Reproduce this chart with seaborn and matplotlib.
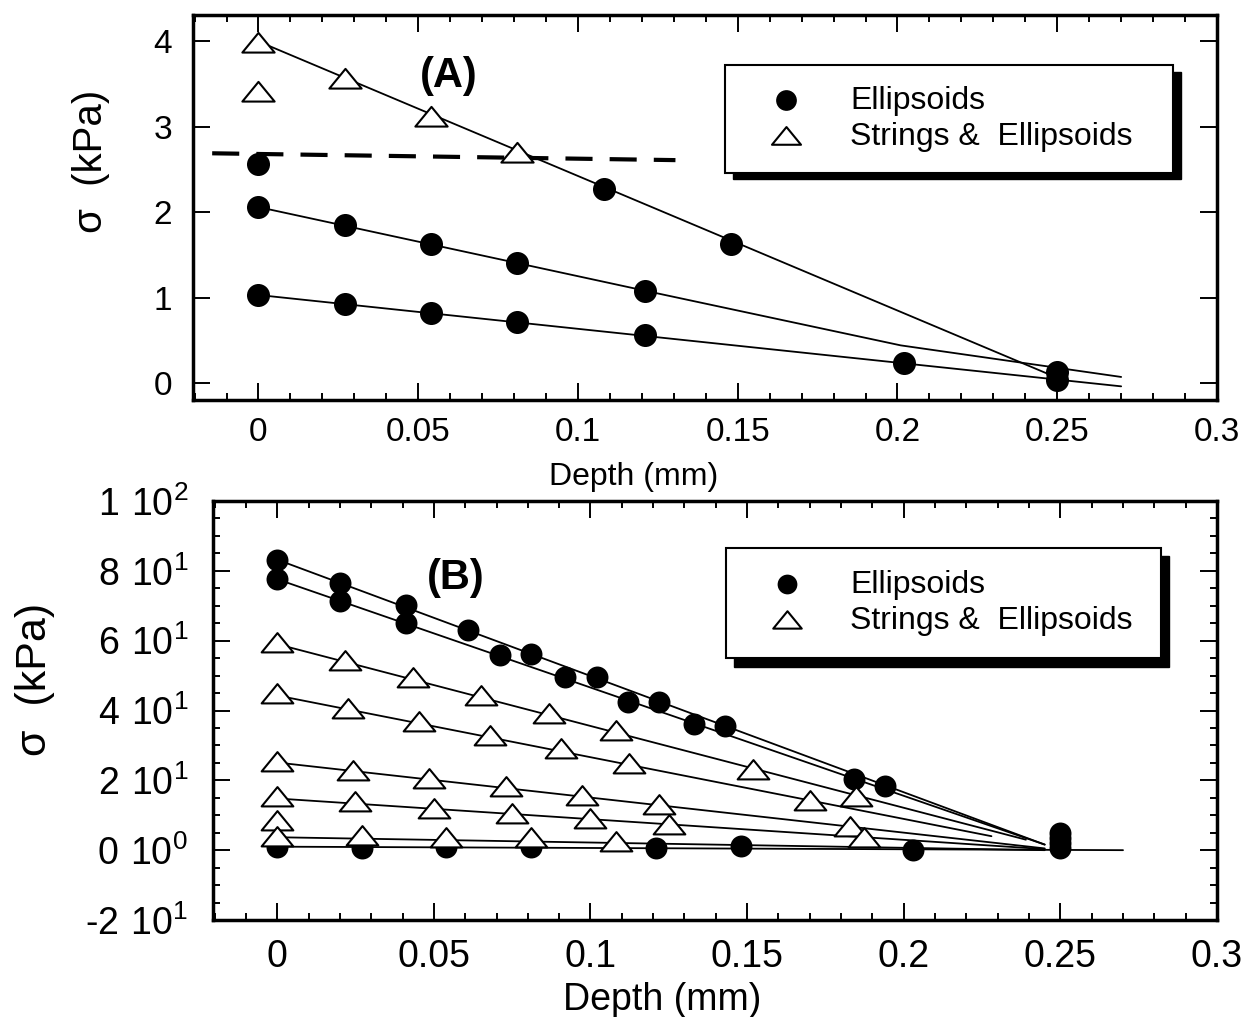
import numpy as np
import pandas as pd
import matplotlib
matplotlib.use('Agg')
import matplotlib.pyplot as plt
import seaborn as sns
from matplotlib.ticker import MultipleLocator, FuncFormatter
from matplotlib.patches import Rectangle
from matplotlib.path import Path

sns.set_style('ticks')
plt.rcParams['font.family'] = ['Liberation Sans', 'DejaVu Sans']
plt.rcParams['mathtext.fontset'] = 'custom'
plt.rcParams['mathtext.rm'] = 'Liberation Sans'
for key in ('text.color', 'axes.labelcolor', 'xtick.color', 'ytick.color'):
    plt.rcParams[key] = 'black'

# ---- panel A data (Depth in mm, sigma in kPa) ----
a_ell_x = [0, 0, 0.027, 0.054, 0.081, 0.121, 0, 0.027, 0.054, 0.081, 0.121,
           0.108, 0.148, 0.202, 0.25, 0.25]
a_ell_y = [2.57, 2.06, 1.85, 1.63, 1.41, 1.08, 1.03, 0.93, 0.82, 0.71, 0.56,
           2.27, 1.63, 0.23, 0.13, 0.03]
a_str_x = [0, 0, 0.027, 0.054, 0.081]
a_str_y = [3.97, 3.40, 3.55, 3.10, 2.68]

# fitted lines of panel A
a_fit_id = [1, 1, 2, 2, 2, 2, 3, 3]
a_fit_x = [0, 0.25, 0, 0.121, 0.201, 0.27, 0, 0.27]
a_fit_y = [4.0, 0.06, 2.06, 1.08, 0.44, 0.07, 1.03, -0.04]

# dashed level
a_dash_x = [-0.0145, 0.1305]
a_dash_y = [2.69, 2.61]

# ---- panel B data ----
b_ell_x = [0, 0.020, 0.041, 0.061, 0.081, 0.102, 0.122, 0.143, 0.194,
           0, 0.020, 0.041, 0.071, 0.092, 0.112, 0.133, 0.184,
           0, 0.027, 0.054, 0.081, 0.121, 0.148, 0.203,
           0.25, 0.25, 0.25, 0.25]
b_ell_y = [83.2, 76.5, 70.3, 63.1, 56.2, 49.7, 42.3, 35.6, 18.5,
           77.6, 71.5, 65.2, 55.9, 49.5, 42.4, 36.2, 20.5,
           1.0, 0.7, 1.0, 1.0, 0.7, 1.1, 0.0,
           5.0, 3.5, 2.0, 0.5]
b_str_x = [0, 0.0215, 0.0434, 0.0649, 0.0869, 0.1083, 0.1519, 0.1847,
           0, 0.0226, 0.0454, 0.068, 0.0906, 0.1122, 0.1702,
           0, 0.0243, 0.0486, 0.0729, 0.0973, 0.1218, 0.1828,
           0, 0.0247, 0.05, 0.075, 0.1, 0.125, 0.1872,
           0,
           0, 0.0271, 0.054, 0.0809, 0.108]
b_str_y = [59.0, 54.0, 48.9, 44.0, 38.7, 33.7, 22.7, 15.0,
           44.3, 40.2, 36.5, 32.5, 28.7, 24.4, 13.8,
           25.1, 22.5, 20.1, 17.7, 15.3, 12.6, 6.4,
           14.8, 13.4, 11.5, 10.0, 8.6, 6.9, 3.1,
           8.1,
           3.6, 3.8, 3.3, 3.1, 2.1]

# fitted lines of panel B
b_fit_id = [1, 1, 2, 2, 3, 3, 4, 4, 5, 5, 6, 6, 7, 7, 8, 8]
b_fit_x = [0, 0.245, 0, 0.245, 0, 0.239, 0, 0.228, 0, 0.245, 0, 0.245,
           0, 0.245, 0, 0.27]
b_fit_y = [83.2, 1.6, 77.6, 1.6, 59.0, 3.0, 44.3, 4.0, 25.1, 0.5, 14.8, 0.3,
           3.7, 0.0, 1.0, 0.0]

labels = ['Ellipsoids', 'Strings &  Ellipsoids']

W, H = 1246, 1017
fig = plt.figure(figsize=(W / 100, H / 100), dpi=100)
axA = fig.add_axes([193 / W, 1 - 400 / H, (1217 - 193) / W, (400 - 15) / H])
axB = fig.add_axes([213 / W, 1 - 920 / H, (1217 - 213) / W, (920 - 501) / H])

# open triangle, a bit wider than tall
tri = Path([(-1, -0.5), (1, -0.5), (0, 0.72), (-1, -0.5)],
           [Path.MOVETO, Path.LINETO, Path.LINETO, Path.CLOSEPOLY])

fitA = pd.DataFrame({'x': a_fit_x, 'y': a_fit_y, 'fit': a_fit_id})
fitB = pd.DataFrame({'x': b_fit_x, 'y': b_fit_y, 'fit': b_fit_id})


def draw_points(ax, ex, ey, sx, sy, s_circ, s_tri):
    sns.scatterplot(x=ex, y=ey, marker='o', s=s_circ, color='k',
                    edgecolor='k', linewidth=0, ax=ax, zorder=3, legend=False)
    h_ell = ax.collections[-1]
    sns.scatterplot(x=sx, y=sy, marker=tri, s=s_tri, color='white',
                    edgecolor='k', linewidth=1.5, ax=ax, zorder=4, legend=False)
    h_str = ax.collections[-1]
    return [h_ell, h_str]


# ---- panel A ----
sns.lineplot(data=fitA, x='x', y='y', units='fit', estimator=None, sort=False,
             color='k', lw=1.3, ax=axA, zorder=2)
sns.lineplot(x=a_dash_x, y=a_dash_y, color='k', lw=3, linestyle=(0, (6.5, 4.1)),
             ax=axA, zorder=2, errorbar=None)
handlesA = draw_points(axA, a_ell_x, a_ell_y, a_str_x, a_str_y, 275, 540)

# ---- panel B ----
sns.lineplot(data=fitB, x='x', y='y', units='fit', estimator=None, sort=False,
             color='k', lw=1.3, ax=axB, zorder=2)
handlesB = draw_points(axB, b_ell_x, b_ell_y, b_str_x, b_str_y, 250, 520)


def sci_label(v, pos):
    if abs(v) < 1e-9:
        return r'$\mathregular{0\ 10^{0}}$'
    e = int(np.floor(np.log10(abs(v))))
    m = int(round(abs(v) / 10 ** e))
    sign = '-' if v < 0 else ''
    return sign + r'$\mathregular{%d\ 10^{%d}}$' % (m, e)


for ax, ylim in ((axA, (-0.2, 4.31)), (axB, (-20, 100))):
    ax.set_xlim(-0.0205, 0.3)
    ax.set_ylim(*ylim)
    ax.xaxis.set_major_locator(MultipleLocator(0.05))
    ax.xaxis.set_minor_locator(MultipleLocator(0.01))
    ax.xaxis.set_major_formatter(FuncFormatter(lambda v, p: f'{v:g}' if abs(v) > 1e-9 else '0'))
    for s in ax.spines.values():
        s.set_linewidth(2.5)
        s.set_color('k')
    ax.tick_params(which='both', direction='in', top=True, right=True,
                   width=1.4, color='k')
    ax.tick_params(which='major', length=12)
    ax.tick_params(which='minor', length=5)

axA.yaxis.set_major_locator(MultipleLocator(1))
axA.tick_params(axis='x', which='major', labelsize=24, pad=12)
axA.tick_params(axis='y', which='major', labelsize=24, pad=15)
axB.yaxis.set_major_locator(MultipleLocator(20))
axB.yaxis.set_minor_locator(MultipleLocator(5))
axB.yaxis.set_major_formatter(FuncFormatter(sci_label))
axB.tick_params(axis='x', which='major', labelsize=27, pad=14)
axB.tick_params(axis='y', which='major', labelsize=27, pad=18)

axA.set_xlabel('Depth (mm)', fontsize=23)
axA.set_ylabel('\u03c3  (kPa)', fontsize=29)
axA.xaxis.set_label_coords(0.43, -0.16)
axA.yaxis.set_label_coords(-0.081, 0.62)
axB.set_xlabel('Depth (mm)', fontsize=27)
axB.set_ylabel('\u03c3  (kPa)', fontsize=31)
axB.xaxis.set_label_coords(0.447, -0.148)
axB.yaxis.set_label_coords(-0.157, 0.573)

axA.text(0.0595, 3.6, '(A)', fontsize=30, fontweight='bold', ha='center', va='center')
axB.text(0.057, 78, '(B)', fontsize=30, fontweight='bold', ha='center', va='center')


def boxed_legend(ax, handles, x0, y0, x1, y1, dx, dy, fs):
    ax.add_patch(Rectangle((x0 + dx, y0 + dy), x1 - x0, y1 - y0, transform=ax.transAxes,
                           facecolor='k', edgecolor='k', zorder=5, clip_on=False))
    ax.add_patch(Rectangle((x0, y0), x1 - x0, y1 - y0, transform=ax.transAxes,
                           facecolor='white', edgecolor='k', lw=1.5, zorder=6, clip_on=False))
    leg = ax.legend(handles, labels, loc='center left', frameon=False,
                    bbox_to_anchor=(x0 + 0.046, (y0 + y1) / 2), fontsize=fs,
                    handlelength=0.9, handletextpad=1.55, labelspacing=0.2,
                    borderpad=0, borderaxespad=0, markerscale=0.9)
    leg.set_zorder(7)


boxed_legend(axA, handlesA, 0.5195, 0.59, 0.957, 0.87, 0.008, -0.017, 23)
boxed_legend(axB, handlesB, 0.511, 0.625, 0.944, 0.888, 0.008, -0.02, 23)

fig.savefig('out.png', dpi=100)
